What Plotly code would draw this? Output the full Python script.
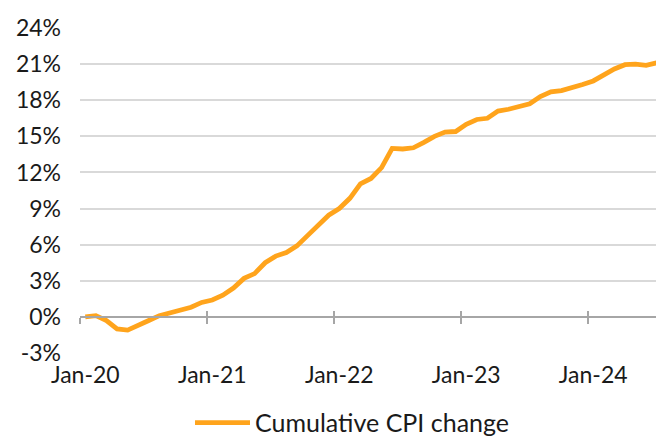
import plotly.graph_objects as go

months = ["Jan-20","Feb-20","Mar-20","Apr-20","May-20","Jun-20","Jul-20","Aug-20","Sep-20","Oct-20","Nov-20","Dec-20",
          "Jan-21","Feb-21","Mar-21","Apr-21","May-21","Jun-21","Jul-21","Aug-21","Sep-21","Oct-21","Nov-21","Dec-21",
          "Jan-22","Feb-22","Mar-22","Apr-22","May-22","Jun-22","Jul-22","Aug-22","Sep-22","Oct-22","Nov-22","Dec-22",
          "Jan-23","Feb-23","Mar-23","Apr-23","May-23","Jun-23","Jul-23","Aug-23","Sep-23","Oct-23","Nov-23","Dec-23",
          "Jan-24","Feb-24","Mar-24","Apr-24","May-24","Jun-24","Jul-24"]

cpi_change = [0.0, 0.1, -0.3, -1.0, -1.1, -0.75, -0.3, 0.1, 0.35, 0.5, 0.8, 1.2,
              1.4, 1.8, 2.4, 3.2, 3.6, 4.5, 5.05, 5.35, 5.9, 6.75, 7.65, 8.45,
              9.0, 9.85, 11.05, 11.5, 12.4, 14.0, 13.95, 14.05, 14.5, 15.0, 15.35, 15.4,
              16.0, 16.4, 16.5, 17.1, 17.25, 17.5, 17.7, 18.3, 18.7, 18.8, 19.0, 19.3,
              19.6, 20.1, 20.6, 20.95, 21.0, 20.9, 21.1]

tick_labels = ["Jan-20", "Jan-21", "Jan-22", "Jan-23", "Jan-24"]
y_ticks = [-3, 0, 3, 6, 9, 12, 15, 18, 21, 24]

idx = list(range(len(months)))
label_pos = [months.index(t) for t in tick_labels]
boundaries = [p - 0.5 for p in label_pos]

FONT = "Lato"
ORANGE = "#FFA41C"
AXIS_GREY = "#A6A6A6"

fig = go.Figure()
fig.add_trace(go.Scatter(
    x=idx, y=cpi_change, mode="lines", name="Cumulative CPI change",
    line=dict(color=ORANGE, width=4.8, shape="linear"),
    hoverinfo="skip",
))
# helper traces to attach the crossing tick-mark axes at y = 0
for ax in ["x2", "x3"]:
    fig.add_trace(go.Scatter(x=idx, y=cpi_change, xaxis=ax, yaxis="y", mode="lines",
                             line=dict(width=0), opacity=0, showlegend=False, hoverinfo="skip"))

zero_pos = (0 - y_ticks[0]) / (y_ticks[-1] - y_ticks[0])

# the page body adds an 8px offset, so the figure is 8px smaller than the window
fig.update_layout(
    width=656, height=430,
    margin=dict(l=72, r=2, t=20, b=85, autoexpand=False),
    paper_bgcolor="white", plot_bgcolor="white",
    font=dict(family=FONT, size=23, color="#1a1a1a"),
    showlegend=True,
    legend=dict(orientation="h", x=0.189, xanchor="left", y=-0.215, yanchor="middle",
                font=dict(size=25), itemwidth=55, bgcolor="rgba(0,0,0,0)"),
    xaxis=dict(range=[-0.5, len(months) - 0.5], tickmode="array", tickvals=label_pos,
               ticktext=tick_labels, showgrid=False, showline=False, zeroline=False,
               ticks="", ticklabelstandoff=6, fixedrange=True, automargin=False),
    xaxis2=dict(overlaying="x", matches="x", anchor="free", position=zero_pos,
                tickmode="array", tickvals=boundaries, ticks="outside", ticklen=6,
                tickwidth=1.5, tickcolor=AXIS_GREY, showline=True, linecolor=AXIS_GREY,
                linewidth=1.5, showticklabels=False, showgrid=False, zeroline=False,
                automargin=False),
    xaxis3=dict(overlaying="x", matches="x", anchor="free", position=zero_pos,
                tickmode="array", tickvals=boundaries, ticks="inside", ticklen=6,
                tickwidth=1.5, tickcolor=AXIS_GREY, showline=False,
                showticklabels=False, showgrid=False, zeroline=False, automargin=False),
    yaxis=dict(range=[y_ticks[0], y_ticks[-1]], tickmode="array", tickvals=y_ticks,
               ticktext=[f"{v}%" for v in y_ticks], showgrid=True, gridcolor="#D9D9D9",
               gridwidth=1.5, zeroline=False, showline=False, ticks="",
               ticklabelstandoff=18, fixedrange=True, automargin=False),
)

fig.write_html("out.html")
